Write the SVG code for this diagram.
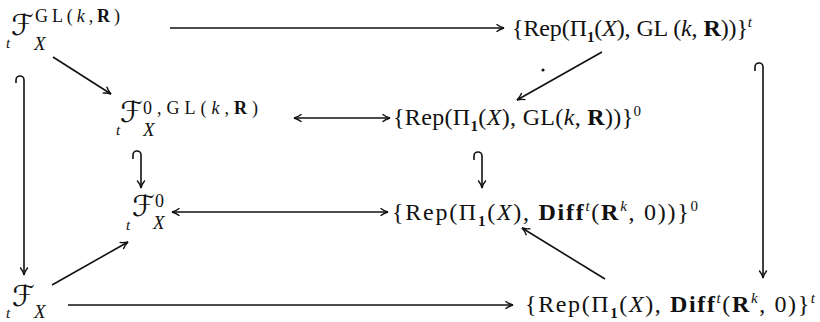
<svg xmlns="http://www.w3.org/2000/svg" width="820" height="322" viewBox="0 0 820 322">
<style>
  text { font-family: "Liberation Serif", "DejaVu Serif", serif; fill: #111; }
  .row { font-size: 24px; }
  .scr { font-family: "DejaVu Sans", "DejaVu Serif", serif; font-size: 29px; }
  .i { font-style: italic; }
  .b { font-weight: bold; }
  .sm { font-size: 15px; }
  .sp { font-size: 18px; }
  .ln { fill: none; stroke: #111; stroke-width: 1.6; }
</style>
<defs>
  <marker id="ah" viewBox="0 0 10 10" refX="9" refY="5" markerWidth="10" markerHeight="10" markerUnits="userSpaceOnUse" orient="auto-start-reverse">
    <path d="M1.5,1.2 Q5,4 9,5 Q5,6 1.5,8.8" fill="none" stroke="#111" stroke-width="1.4"/>
  </marker>
</defs>

<g id="nodeA">
  <text class="i sm" x="6" y="48">t</text>
  <text class="scr" x="11" y="35">ℱ</text>
  <text class="sp" x="35" y="22" textLength="85" lengthAdjust="spacing">GL(<tspan class="i">k</tspan>,<tspan class="b">R</tspan>)</text>
  <text class="i" font-size="19" x="34" y="50">X</text>
</g>

<g id="nodeB">
  <text class="i sm" x="116" y="135">t</text>
  <text class="scr" x="120" y="122">ℱ</text>
  <text class="sp" x="143" y="114" textLength="115" lengthAdjust="spacing">0,GL(<tspan class="i">k</tspan>,<tspan class="b">R</tspan>)</text>
  <text class="i" font-size="19" x="143" y="136">X</text>
</g>

<g id="nodeC">
  <text class="i sm" x="126" y="230">t</text>
  <text class="scr" x="132" y="216">ℱ</text>
  <text class="sp" x="155" y="207">0</text>
  <text class="i" font-size="19" x="153" y="229">X</text>
</g>

<g id="nodeD">
  <text class="i sm" x="6" y="318">t</text>
  <text class="scr" x="12" y="306">ℱ</text>
  <text class="i" font-size="19" x="34" y="318">X</text>
</g>

<g id="nodeTR">
  <text class="row" x="512" y="36" textLength="240" lengthAdjust="spacing">{Rep(Π<tspan class="sm b" dy="6">1</tspan><tspan dy="-6">(</tspan><tspan class="i">X</tspan>), GL (<tspan class="i">k</tspan>, <tspan class="b">R</tspan>))}<tspan class="sm i" dy="-9">t</tspan></text>
</g>

<g id="nodeMR2">
  <text class="row" x="393" y="125" textLength="248" lengthAdjust="spacing">{Rep(Π<tspan class="sm b" dy="6">1</tspan><tspan dy="-6">(</tspan><tspan class="i">X</tspan>), GL(<tspan class="i">k</tspan>, <tspan class="b">R</tspan>))}<tspan class="sm" dy="-9">0</tspan></text>
</g>

<g id="nodeMR3">
  <text class="row" x="392" y="220" textLength="306" lengthAdjust="spacing">{Rep(Π<tspan class="sm b" dy="6">1</tspan><tspan dy="-6">(</tspan><tspan class="i">X</tspan>), <tspan class="b">Diff</tspan><tspan class="sm i" dy="-9">t</tspan><tspan dy="9">(</tspan><tspan class="b">R</tspan><tspan class="sm i" dy="-9">k</tspan><tspan dy="9">, 0))}</tspan><tspan class="sm" dy="-9">0</tspan></text>
</g>

<g id="nodeBR">
  <text class="row" x="525" y="312" textLength="290" lengthAdjust="spacing">{Rep(Π<tspan class="sm b" dy="6">1</tspan><tspan dy="-6">(</tspan><tspan class="i">X</tspan>), <tspan class="b">Diff</tspan><tspan class="sm i" dy="-9">t</tspan><tspan dy="9">(</tspan><tspan class="b">R</tspan><tspan class="sm i" dy="-9">k</tspan><tspan dy="9">, 0)}</tspan><tspan class="sm i" dy="-9">t</tspan></text>
</g>

<g id="connectors">
  <path class="ln" d="M170,28 L504,28" marker-end="url(#ah)"/>
  <path class="ln" d="M53,57 L111,94" marker-end="url(#ah)"/>
  <path class="ln" d="M602,52 L517,100" marker-end="url(#ah)"/>
  <circle cx="543" cy="70" r="1.6" fill="#111"/>
  <path class="ln" d="M294,118 L390,118" marker-start="url(#ah)" marker-end="url(#ah)"/>
  <path class="ln" d="M172,212 L388,212" marker-start="url(#ah)" marker-end="url(#ah)"/>
  <path class="ln" d="M16,83 L16,80 A4,4 0 0 1 24,80 L24,275" marker-end="url(#ah)"/>
  <path class="ln" d="M133,159 L133,155 A4,4 0 0 1 141,155 L141,188" marker-end="url(#ah)"/>
  <path class="ln" d="M474,160 L474,156 A4,4 0 0 1 482,156 L482,188" marker-end="url(#ah)"/>
  <path class="ln" d="M755,71 L755,67 A4,4 0 0 1 763,67 L763,278" marker-end="url(#ah)"/>
  <path class="ln" d="M52,285 L128,242" marker-end="url(#ah)"/>
  <path class="ln" d="M605,279 L522,228" marker-end="url(#ah)"/>
  <path class="ln" d="M68,305 L513,305" marker-end="url(#ah)"/>
</g>
</svg>
